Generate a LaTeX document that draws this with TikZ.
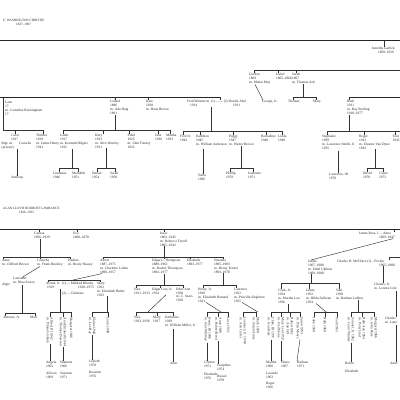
\documentclass[tikz,border=0pt]{standalone}
\usepackage{fontspec}
\setmainfont{Liberation Serif}
\newcommand\tx{\fontsize{3.5}{3.9}\selectfont}
\newcommand\ttl{\fontsize{3.3}{4}\selectfont}
\tikzset{
 nm/.style={anchor=north west,inner sep=0pt,align=left,font=\tx,text=black!85},
 rt/.style={anchor=west,rotate=-90,inner sep=0.6pt,align=left,font=\tx,text=black!85},
 ln/.style={line width=0.45pt,draw=black!80},
 thk/.style={line width=0.75pt,draw=black!85},
}
\newcommand\kid[5]{\node[nm] (#1) at (#4) {#5};\coordinate (#1t) at (#2,#3);\draw[ln] (#1t) -- (#1t |- #1.north);}
\newcommand\rkid[4]{\node[rt] (#1) at (#2,#3+5) {#4};\coordinate (#1t) at (#2,#3);\draw[ln] (#1t) -- (#1.west);}
\begin{document}
\begin{tikzpicture}[x=1pt,y=-1pt]
\useasboundingbox (0,0) rectangle (400,400);
\fill[white] (0,0) rectangle (400,400);
% ================= TOP =================
\node[nm,font=\ttl] (ewc) at (3,19.5) {E. WASHINGTON CHRISTIE\\\hspace*{13pt}1827--1907};
\coordinate (ta) at (0,40); \coordinate (tb) at (400,40);
\draw[thk] (ta) -- (tb);
\kid{ism}{384}{40}{372,46.5}{Ismelda Garlick\\\hspace*{6pt}1850--1926}
\kid{gor}{254}{70}{249,73}{Gordon\\1869\\m. Mattie May}
\kid{isb}{278}{70}{276,73}{Isabel\\1865--1866}
\kid{sar}{296}{70}{292,73}{Sarah\\1867\\m. Thomas Ash}
\coordinate (gr) at (400,70);
\draw[ln] (gort) -- (gr);
\node[nm] (geo) at (262,100) {George, Jr.};
\draw[ln] ([xshift=6pt]gor.south west) -- ([xshift=1pt]geo.north west);
\kid{tho}{293}{97}{288,100}{Thomas}
\kid{mry}{316}{97}{313,100}{Mary}
\draw[ln] (thot) -- (mryt);
\coordinate (tmv) at (303,97);
\draw[ln] (tmv) -- (tmv |- sar.south);
\kid{ruth}{349}{97}{347,100}{Ruth\\1911\\m. Ray Sterling\\1910--1977}
\coordinate (rr) at (400,97);
\draw[thk] (rutht) -- (rr);
\coordinate (la) at (0,97);
\kid{lane}{3}{97}{5,101}{Lane\\17\\m. Cornelius Buckingham\\17}
\coordinate (laneb) at (3,130);
\draw[ln] (lanet) -- (laneb);
\kid{lel}{115}{97}{110,100}{Leland\\1886\\m. Ada Haig\\1891}
\kid{kat}{148}{97}{146,100}{Kate\\1920\\m. Hans Brown}
\kid{fred}{220}{97}{187,100}{Fred Weisner\ m.\,(1)\,---\,---\,(2)\ Harold Abel\\\hspace*{3pt}1914\hspace*{36pt}1911}
\draw[thk] (la) -- (fredt);
% Lane's children
\kid{car}{15}{130}{11,134}{Carol\\1917}
\node[nm] (msg) at (1.5,141.8) {Mgr.\ m.\\(private)};
\node[nm] (corn) at (19,141.8) {Cornelia};
\kid{the}{43}{130}{36,134}{Thelma\\1919\\m. James Henry\\1941}
\draw[ln] (laneb) -- (thet);
\node[nm] (ant) at (11,176) {Anthony};
\coordinate (antv) at (17,149);
\draw[ln] (antv) -- (antv |- ant.north);
% Leland's children
\coordinate (lelb) at (115,130);
\draw[ln] (lelb) -- (lelb |- lel.south);
\kid{lam}{63}{130}{60,134}{Lamb\\1917\\m. Kenneth Hilgers\\1915}
\kid{kit}{103}{130}{95,134}{Kitty\\1923\\m. Alex Westley\\1911}
\kid{eth}{129}{130}{127.5,134}{Ethel\\1925\\m. John Tierney\\1922}
\kid{jan}{158}{130}{155,134}{Jane\\1930}
\kid{mat}{170}{130}{166,134}{Martha\\1933}
\draw[ln] (lamt) -- (matt);
\coordinate (lamv) at (72,168);
\draw[ln] (lamv) -- (lamv |- lam.south);
\kid{lnd}{59}{168}{53,172}{Lindanne\\1946}
\kid{mer}{78}{168}{72,172}{Meredith\\1951}
\draw[ln] (lndt) -- (mert);
\coordinate (kitv) at (106,168);
\draw[ln] (kitv) -- (kitv |- kit.south);
\kid{dan}{97}{168}{92,172}{Daniel\\1954}
\kid{sah}{115}{168}{110,172}{Sarah\\1958}
\draw[ln] (dant) -- (saht);
% Fred's children
\coordinate (fredv) at (211,131);
\draw[ln] (fredv) -- (fredv |- fred.south);
\kid{frj}{183}{131}{180,135}{Fred Jr.\\1943}
\kid{kth}{200}{131}{196,135}{Kathleen\\1945\\m. William Anderson}
\kid{peg}{233}{131}{229,135}{Peggy\\1947\\m. Walter Brown}
\kid{ber}{266}{131}{261,135}{Bernadine\\1948}
\kid{lda}{282}{131}{278,135}{Linda\\1949}
\draw[ln] (frjt) -- (ldat);
\coordinate (kthv) at (203,148.5);
\node[nm] (sal) at (198,174) {Sallie\\1966};
\draw[ln] (kthv) -- (kthv |- sal.north);
\coordinate (pegv) at (241,168);
\draw[ln] (pegv) -- (pegv |- peg.south);
\kid{phi}{230}{168}{226,172}{Phillip\\1970}
\kid{jea}{253}{168}{248,172}{Jeannette\\1971}
\draw[ln] (phit) -- (jeat);
% Ruth's children
\coordinate (ruthv) at (349,131);
\draw[ln] (ruthv) -- (ruthv |- ruth.south);
\kid{ste}{327}{131}{322,135}{Stephanie\\1939\\m. Lawrence Smith, Jr.\\1935}
\kid{rog}{364}{131}{359,135}{Roger\\1941\\m. Eleanor Van Dyne\\1943}
\kid{ton}{395}{131}{392.5,135}{Toni\\1945}
\coordinate (rb) at (400,131);
\draw[ln] (stet) -- (rb);
\coordinate (stev) at (338,151);
\node[nm] (law) at (329,173) {Lawrence, III\\1970};
\draw[ln] (stev) -- (stev |- law.north);
\coordinate (rogv) at (375,168);
\draw[ln] (rogv) -- (rogv |- rog.south);
\kid{dav}{367}{168}{363,172}{David\\1970}
\kid{clr}{383}{168}{379,172}{Claire\\1972}
\draw[ln] (davt) -- (clrt);
% ================= BOTTOM =================
\node[nm,font=\ttl] (all) at (3,207.5) {ALAN LLOYD BOOROFF LAWRANCE\\\hspace*{16pt}1836--1932};
\coordinate (ba) at (0,229); \coordinate (bb) at (400,229);
\draw[thk] (ba) -- (bb);
\kid{cari}{39}{229}{34,232}{Carissa\\1856--1929}
\kid{eva}{77}{229}{73,232}{Eva\\1860--1878}
\kid{isc}{164}{229}{160,232}{Isaac\\1862--1945\\m. Rebecca Tyrrell\\1865--1942}
\kid{jro}{394}{229}{359,232}{James Ross, I\,---\,Anna\\\hspace*{20pt}1869--1947}
% Carissa
\coordinate (cariv) at (40,257);
\draw[ln] (cariv) -- (cariv |- cari.south);
\kid{ann}{3}{257}{2,259}{Anne\\m. Clifford Brown}
\kid{cor}{40}{257}{37,259}{Cornelia\\m. Frank Buckley}
\kid{pau}{70}{257}{68,259}{Pauline\\m. Henry Hassey}
\draw[ln] (annt) -- (paut);
\node[nm] (lan) at (13,277.5) {Lancaster\\m. Nina Searcy};
\node[nm] (alg) at (2,283) {Algie};
\draw[ln] ([xshift=3pt]cor.south west) -- ([xshift=9pt]lan.north west);
\coordinate (lanv) at (22,313);
\draw[ln] (lanv) -- (lanv |- lan.south);
\kid{anj}{5}{313}{3,316}{Antonio, Jr.}
\kid{mri}{35}{313}{30,316}{Mari}
\draw[ln] (anjt) -- (mrit);
% Isaac
\coordinate (iscv) at (164,257);
\draw[ln] (iscv) -- (iscv |- isc.south);
\kid{alb}{103}{257}{100,259}{Albert\\1887--1971\\m. Charlotte Loftus\\1890--1957}
\kid{edg}{164}{257}{152,259}{Edgar L. Thompson\\1889--1961\\m. Rachel Thompson\\1892--1977}
\kid{eli}{190}{257}{187,259}{Elizabeth\\1893--1977}
\kid{sus}{223}{257}{214,259}{Susanna\\1895--1983\\m. Henry Tenzer\\1893--1978}
\draw[ln] (albt) -- (sust);
% Albert
\coordinate (albm) at (73,280);
\draw[ln] ([xshift=2pt]alb.south west) -- (albm);
\kid{alf}{48}{280}{46,282}{Alfred, Jr.\ \ (1)\,---\,Mildred Rhodes\\\hspace*{1pt}1919\hspace*{24pt}1920--1975}
\kid{may}{100}{280}{97,282}{Mary\\1922\\m. Elizabeth Butler\\1923}
\draw[ln] (alft) -- (mayt);
\node[nm] (chr) at (62,291.5) {(2)\,---\,Christine};
\coordinate (alfv) at (60,312);
\coordinate (alfu) at (60,289);
\draw[ln] (alfu) -- (alfv);
\rkid{ra1}{50}{312}{Alfred, III 1942\\m. Diane Graham}
\rkid{ra2}{63}{312}{Ann Elizabeth 1944\\m. Thomas Dawson}
\rkid{ra3}{71}{312}{Margaret 1946}
\draw[ln] (ra1t) -- (ra3t);
\node[nm] (agl) at (46,361) {Angela\\1965};
\node[nm] (als) at (46,372) {Allison\\1969};
\node[nm] (shn) at (60,361) {Shannon\\1966};
\node[nm] (suz) at (60,372) {Suzanne\\1971};
\draw[ln] (ra1.east) -- (ra1.east |- agl.north);
\draw[ln] (ra2.east) -- (ra2.east |- shn.north);
\coordinate (mayv) at (107,312);
\draw[ln] (mayv) -- (mayv |- may.south);
\rkid{rm1}{92}{312}{Elaine 1946\\m. Lee Ray}
\rkid{rm2}{108}{312}{Louis 1948}
\draw[ln] (rm1t) -- (rm2t);
\node[nm] (lis) at (89,360) {Lisbeth\\1970};
\node[nm] (ros) at (89,371) {Rosanne\\1976};
\draw[ln] (rm1.east) -- (rm1.east |- lis.north);
% Edgar
\coordinate (edgv) at (164,285);
\draw[ln] (edgv) -- (edgv |- edg.south);
\kid{sr1}{136}{285}{134,288}{Sara\\1911--1913}
\kid{tlj}{160}{285}{152,288}{Edgar Lew, Jr.\\1914}
\kid{eta}{183}{285}{176,287.5}{Ethel Ann\\1920\\m. C. Sears\\1920}
\draw[ln] (sr1t) -- (etat);
\coordinate (tljm) at (148,312);
\draw[ln] ([xshift=14pt]tlj.south west) -- (tljm);
\kid{sr2}{136}{312}{134,316}{Sara\\1933--1936}
\kid{my2}{157}{312}{153,316}{Mary\\1937}
\kid{kat2}{173}{312}{165,316}{Katherine\\1939\\m. William Miller, Jr.}
\draw[ln] (sr2t) -- (kat2t);
\node[nm] (aln) at (170,362) {Alan};
\coordinate (alnv) at (173,328.5);
\draw[ln] (alnv) -- (alnv |- aln.north);
% Susanna
\coordinate (susv) at (223,285);
\draw[ln] (susv) -- (susv |- sus.south);
\kid{hen}{203}{285}{198,288}{Henry, Jr.\\1920\\m. Elizabeth Barnard\\1921}
\kid{lau}{236}{285}{234,288}{Laurence\\1922\\m. Priscilla Singleton\\1925}
\draw[ln] (hent) -- (laut);
\coordinate (henm) at (221,312);
\draw[ln] ([xshift=8pt]hen.south west) -- (henm);
\rkid{rh1}{207.5}{312}{Henry, III 1946\\m. Jane Whitney}
\rkid{rh2}{218.5}{312}{Anne 1948\\m. Robert Reed}
\rkid{rh3}{228}{312}{Lucy 1951}
\draw[ln] (rh1t) -- (rh3t);
\node[nm] (cli) at (204,361) {Clinton\\1971};
\node[nm] (el2) at (204,373) {Elizabeth\\1976};
\node[nm] (jos) at (217,364) {Josephine\\1974};
\node[nm] (rus) at (217,375) {Russel\\1978};
\draw[ln] (rh1.east) -- (rh1.east |- cli.north);
\draw[ln] (rh2.east) -- (rh2.east |- jos.north);
\coordinate (laum) at (258,312);
\draw[ln] ([xshift=8pt]lau.south west) -- (laum);
\rkid{rl1}{243}{312}{Laurence, Jr. 1948\\m. Ann Carter}
\rkid{rl2}{256}{312}{Mark 1950\\m. Susan Ames}
\draw[ln] (rl1t) -- (rl2t);
% James Ross
\node[nm] (jam) at (308,260) {James\\1907--1980\\m. Ethel Ulphius\\1909--1980};
\draw[ln] ([xshift=34pt]jro.south west) -- ([xshift=3pt]jam.north west);
\coordinate (jamv) at (311,283);
\draw[ln] (jamv) -- (jamv |- jam.south);
\kid{clk}{281}{283}{278,289}{Clark, Jr.\\1934\\m. Martha Lou\\1936}
\kid{jm2}{309}{283}{306,289}{James\\1932\\m. Hilda Sullivan\\1934}
\kid{sam}{339}{283}{336,289}{Sam\\1938\\m. Barbara Lubbes}
\draw[ln] (clkt) -- (samt);
\coordinate (clkv) at (288,312);
\draw[ln] (clkv) -- (clkv |- clk.south);
\rkid{rc1}{271}{312}{Clark, III 1957\\m. Jean Hale}
\rkid{rc2}{281}{312}{Mary Lou 1959\\m. Fred Stone}
\rkid{rc3}{290}{312}{Robert 1961\\m. Ann Gill}
\rkid{rc4}{300}{312}{Susan 1963\\m. Dan Moore}
\draw[ln] (rc1t) -- (rc4t);
\node[nm] (mt2) at (266,361) {Martha\\1960};
\node[nm] (luc) at (266,372) {Lucinda\\1963};
\node[nm] (rg2) at (266,382.5) {Roger\\1966};
\node[nm] (dia) at (281,361) {Diane\\1967};
\node[nm] (brb) at (297,361) {Barbara\\1971};
\draw[ln] (rc1.east) -- (rc1.east |- mt2.north);
\draw[ln] (rc2.east) -- (rc2.east |- dia.north);
\draw[ln] (rc4.east) -- (brb.north west);
\coordinate (jm2m) at (326,312);
\draw[ln] ([xshift=10pt]jm2.south west) -- (jm2m);
\rkid{rj1}{314}{312}{John 1958}
\rkid{rj2}{325}{312}{Ruth 1960}
\rkid{rj3}{337}{312}{Paul 1963}
\draw[ln] (rj1t) -- (rj3t);
\coordinate (samv) at (358,312);
\draw[ln] (samv) -- (samv |- sam.south);
\rkid{rs1}{351}{312}{Samuel, Jr. 1962\\m. Carol Winters}
\rkid{rs2}{362}{312}{Ruth Ann 1964\\m. Peter Lind}
\rkid{rs3}{374}{312}{Margaret 1966\\m. John Ross}
\draw[ln] (rs1t) -- (rs3t);
\node[nm] (rbn) at (345,362) {Robin};
\node[nm] (el3) at (345,370) {Elizabeth};
\draw[ln] (rs1.east) -- (rs1.east |- rbn.north);
% Charles
\node[nm] (chm) at (337,260) {Charles H. McEliece\ (1)\,--\,Evelyn\\\hspace*{42pt}1905--1980};
\coordinate (chma) at (389,257); \coordinate (chmb) at (400,257);
\draw[ln] (chma) -- (chmb);
\draw[ln] (chma) -- (chma |- chm.north);
\coordinate (chmv) at (383,266);
\node[nm] (cj) at (374,283) {Charles, Jr.\\m. Loretta Cole};
\draw[ln] (chmv) -- (chmv |- cj.north);
\coordinate (cjv) at (396,291);
\node[nm] (c3) at (385,317) {Charles\\m. Lane};
\draw[ln] (cjv) -- (cjv |- c3.north);
\coordinate (c3v) at (396,325);
\node[nm] (an2) at (390,362) {Anne};
\draw[ln] (c3v) -- (c3v |- an2.north);
\end{tikzpicture}
\end{document}
